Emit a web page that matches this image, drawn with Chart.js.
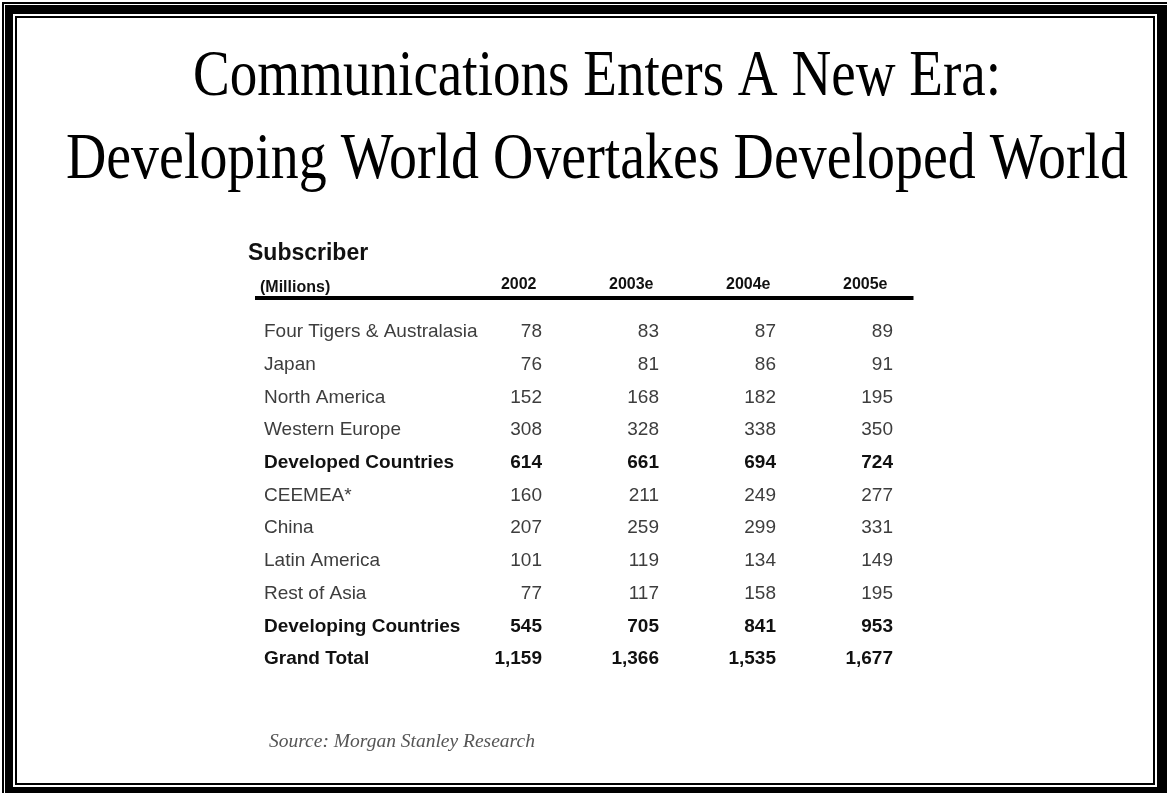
<!DOCTYPE html>
<html>
<head>
<meta charset="utf-8">
<title>Communications Enters A New Era</title>
<script src="https://cdn.jsdelivr.net/npm/chart.js@4/dist/chart.umd.min.js"></script>
<style>
    html, body { margin: 0; padding: 0; background: #fff; }
    #wrap { position: relative; width: 1167px; height: 793px; }
</style>
</head>
<body>
<div id="wrap"><canvas id="subscriberChart"></canvas></div>
<script>
// Subscribers in millions, by region
const regions = [
    'Four Tigers & Australasia',
    'Japan',
    'North America',
    'Western Europe',
    'Developed Countries',
    'CEEMEA*',
    'China',
    'Latin America',
    'Rest of Asia',
    'Developing Countries',
    'Grand Total'
];
const totalRows = ['Developed Countries', 'Developing Countries', 'Grand Total'];
const years = ['2002', '2003e', '2004e', '2005e'];

const subs2002 = [78, 76, 152, 308, 614, 160, 207, 101, 77, 545, 1159];
const subs2003e = [83, 81, 168, 328, 661, 211, 259, 119, 117, 705, 1366];
const subs2004e = [87, 86, 182, 338, 694, 249, 299, 134, 158, 841, 1535];
const subs2005e = [89, 91, 195, 350, 724, 277, 331, 149, 195, 953, 1677];

const titleLines = ['Communications Enters A New Era:', 'Developing World Overtakes Developed World'];
const sourceNote = 'Source: Morgan Stanley Research';

const SANS = '"Liberation Sans", Arial, sans-serif';
const SERIF = '"Liberation Serif", "Times New Roman", serif';
const GREY = '#3d3d3d';
const INK = '#111111';

const isTotal = (name) => totalRows.includes(name);

// page frame + headline
const slidePlugin = {
    id: 'slide',
    beforeDraw(chart) {
        const ctx = chart.ctx;
        const w = chart.width, h = chart.height;
        ctx.save();
        ctx.fillStyle = '#fff';
        ctx.fillRect(0, 0, w, h);
        ctx.fillStyle = '#000';
        ctx.fillRect(2, 2, w - 2, h - 2);
        ctx.fillStyle = '#fff';
        ctx.fillRect(4, 4, w - 4, h - 4);
        ctx.fillStyle = '#000';
        ctx.fillRect(5, 5, w - 5, h - 5);
        ctx.fillStyle = '#fff';
        ctx.fillRect(13, 14, w - 10 - 13, h - 6 - 14);
        ctx.fillStyle = '#000';
        ctx.fillRect(15, 16, w - 12 - 15, h - 8 - 16);
        ctx.fillStyle = '#fff';
        ctx.fillRect(17, 18, w - 14 - 17, h - 10 - 18);

        // headline, set in a condensed serif
        ctx.fillStyle = '#000';
        ctx.font = '66px ' + SERIF;
        ctx.textAlign = 'center';
        ctx.textBaseline = 'alphabetic';
        const baselines = [95, 178];
        const squeeze = [0.835, 0.847];
        titleLines.forEach((line, i) => {
            ctx.save();
            ctx.translate(597, baselines[i]);
            ctx.scale(squeeze[i], 1);
            ctx.fillText(line, 0, 0);
            ctx.restore();
        });
        ctx.restore();
    }
};

// table header, rule, value cells and footnote
const tablePlugin = {
    id: 'table',
    afterDatasetsDraw(chart) {
        const ctx = chart.ctx;
        const xs = chart.scales.x;
        const ys = chart.scales.y;
        ctx.save();

        ctx.fillStyle = INK;
        ctx.textAlign = 'left';
        ctx.textBaseline = 'alphabetic';
        ctx.font = 'bold 23px ' + SANS;
        ctx.fillText('Subscriber', ys.left - 16, 260);
        ctx.font = 'bold 16px ' + SANS;
        ctx.fillText('(Millions)', ys.left - 4, 292);

        // heavy rule under the column heads
        const lastX = xs.getPixelForValue(years.length - 1);
        ctx.fillStyle = '#000';
        ctx.fillRect(ys.left - 9, 296, lastX + 26 - (ys.left - 9), 4);

        chart.data.datasets.forEach((ds, d) => {
            const meta = chart.getDatasetMeta(d);
            meta.data.forEach((pt, i) => {
                const name = regions[i];
                ctx.font = (isTotal(name) ? 'bold ' : '') + '19px ' + SANS;
                ctx.fillStyle = isTotal(name) ? INK : GREY;
                ctx.textAlign = 'right';
                ctx.textBaseline = 'middle';
                ctx.fillText(ds.values[i].toLocaleString('en-US'), pt.x + 5.5, pt.y);
            });
        });

        ctx.font = 'italic 19.5px ' + SERIF;
        ctx.fillStyle = '#555';
        ctx.textAlign = 'left';
        ctx.textBaseline = 'alphabetic';
        ctx.fillText(sourceNote, ys.left + 5, 747);
        ctx.restore();
    }
};

function makeColumn(year, values) {
    return {
        label: year,
        values: values,
        data: values.map((v, i) => ({ x: year, y: regions[i] })),
        pointRadius: 0,
        pointHoverRadius: 0,
        showLine: false
    };
}

const ctx = document.getElementById('subscriberChart').getContext('2d');
const subscriberChart = new Chart(ctx, {
    type: 'scatter',
    data: {
        datasets: [
            makeColumn('2002', subs2002),
            makeColumn('2003e', subs2003e),
            makeColumn('2004e', subs2004e),
            makeColumn('2005e', subs2005e)
        ]
    },
    options: {
        responsive: true,
        maintainAspectRatio: false,
        animation: false,
        events: [],
        layout: {
            padding: { left: 264, right: 221, top: 275.6, bottom: 117.6 }
        },
        plugins: {
            legend: { display: false },
            title: { display: false },
            tooltip: { enabled: false }
        },
        scales: {
            x: {
                type: 'category',
                labels: years,
                position: 'top',
                offset: true,
                grid: { display: false, drawTicks: false },
                border: { display: false },
                afterFit(scale) { scale.height = 40; },
                ticks: {
                    align: 'end',
                    padding: 21,
                    autoSkip: false,
                    maxRotation: 0,
                    color: INK,
                    font: { family: SANS, size: 16, weight: 'bold' }
                }
            },
            y: {
                type: 'category',
                labels: regions,
                offset: true,
                grid: { display: false, drawTicks: false },
                border: { display: false },
                afterFit(scale) { scale.width = 214; },
                ticks: {
                    crossAlign: 'far',
                    padding: 0,
                    autoSkip: false,
                    color: (c) => isTotal(regions[c.index]) ? INK : GREY,
                    font: (c) => ({
                        family: SANS,
                        size: 19,
                        weight: isTotal(regions[c.index]) ? 'bold' : 'normal'
                    })
                }
            }
        }
    },
    plugins: [slidePlugin, tablePlugin]
});
</script>
</body>
</html>
